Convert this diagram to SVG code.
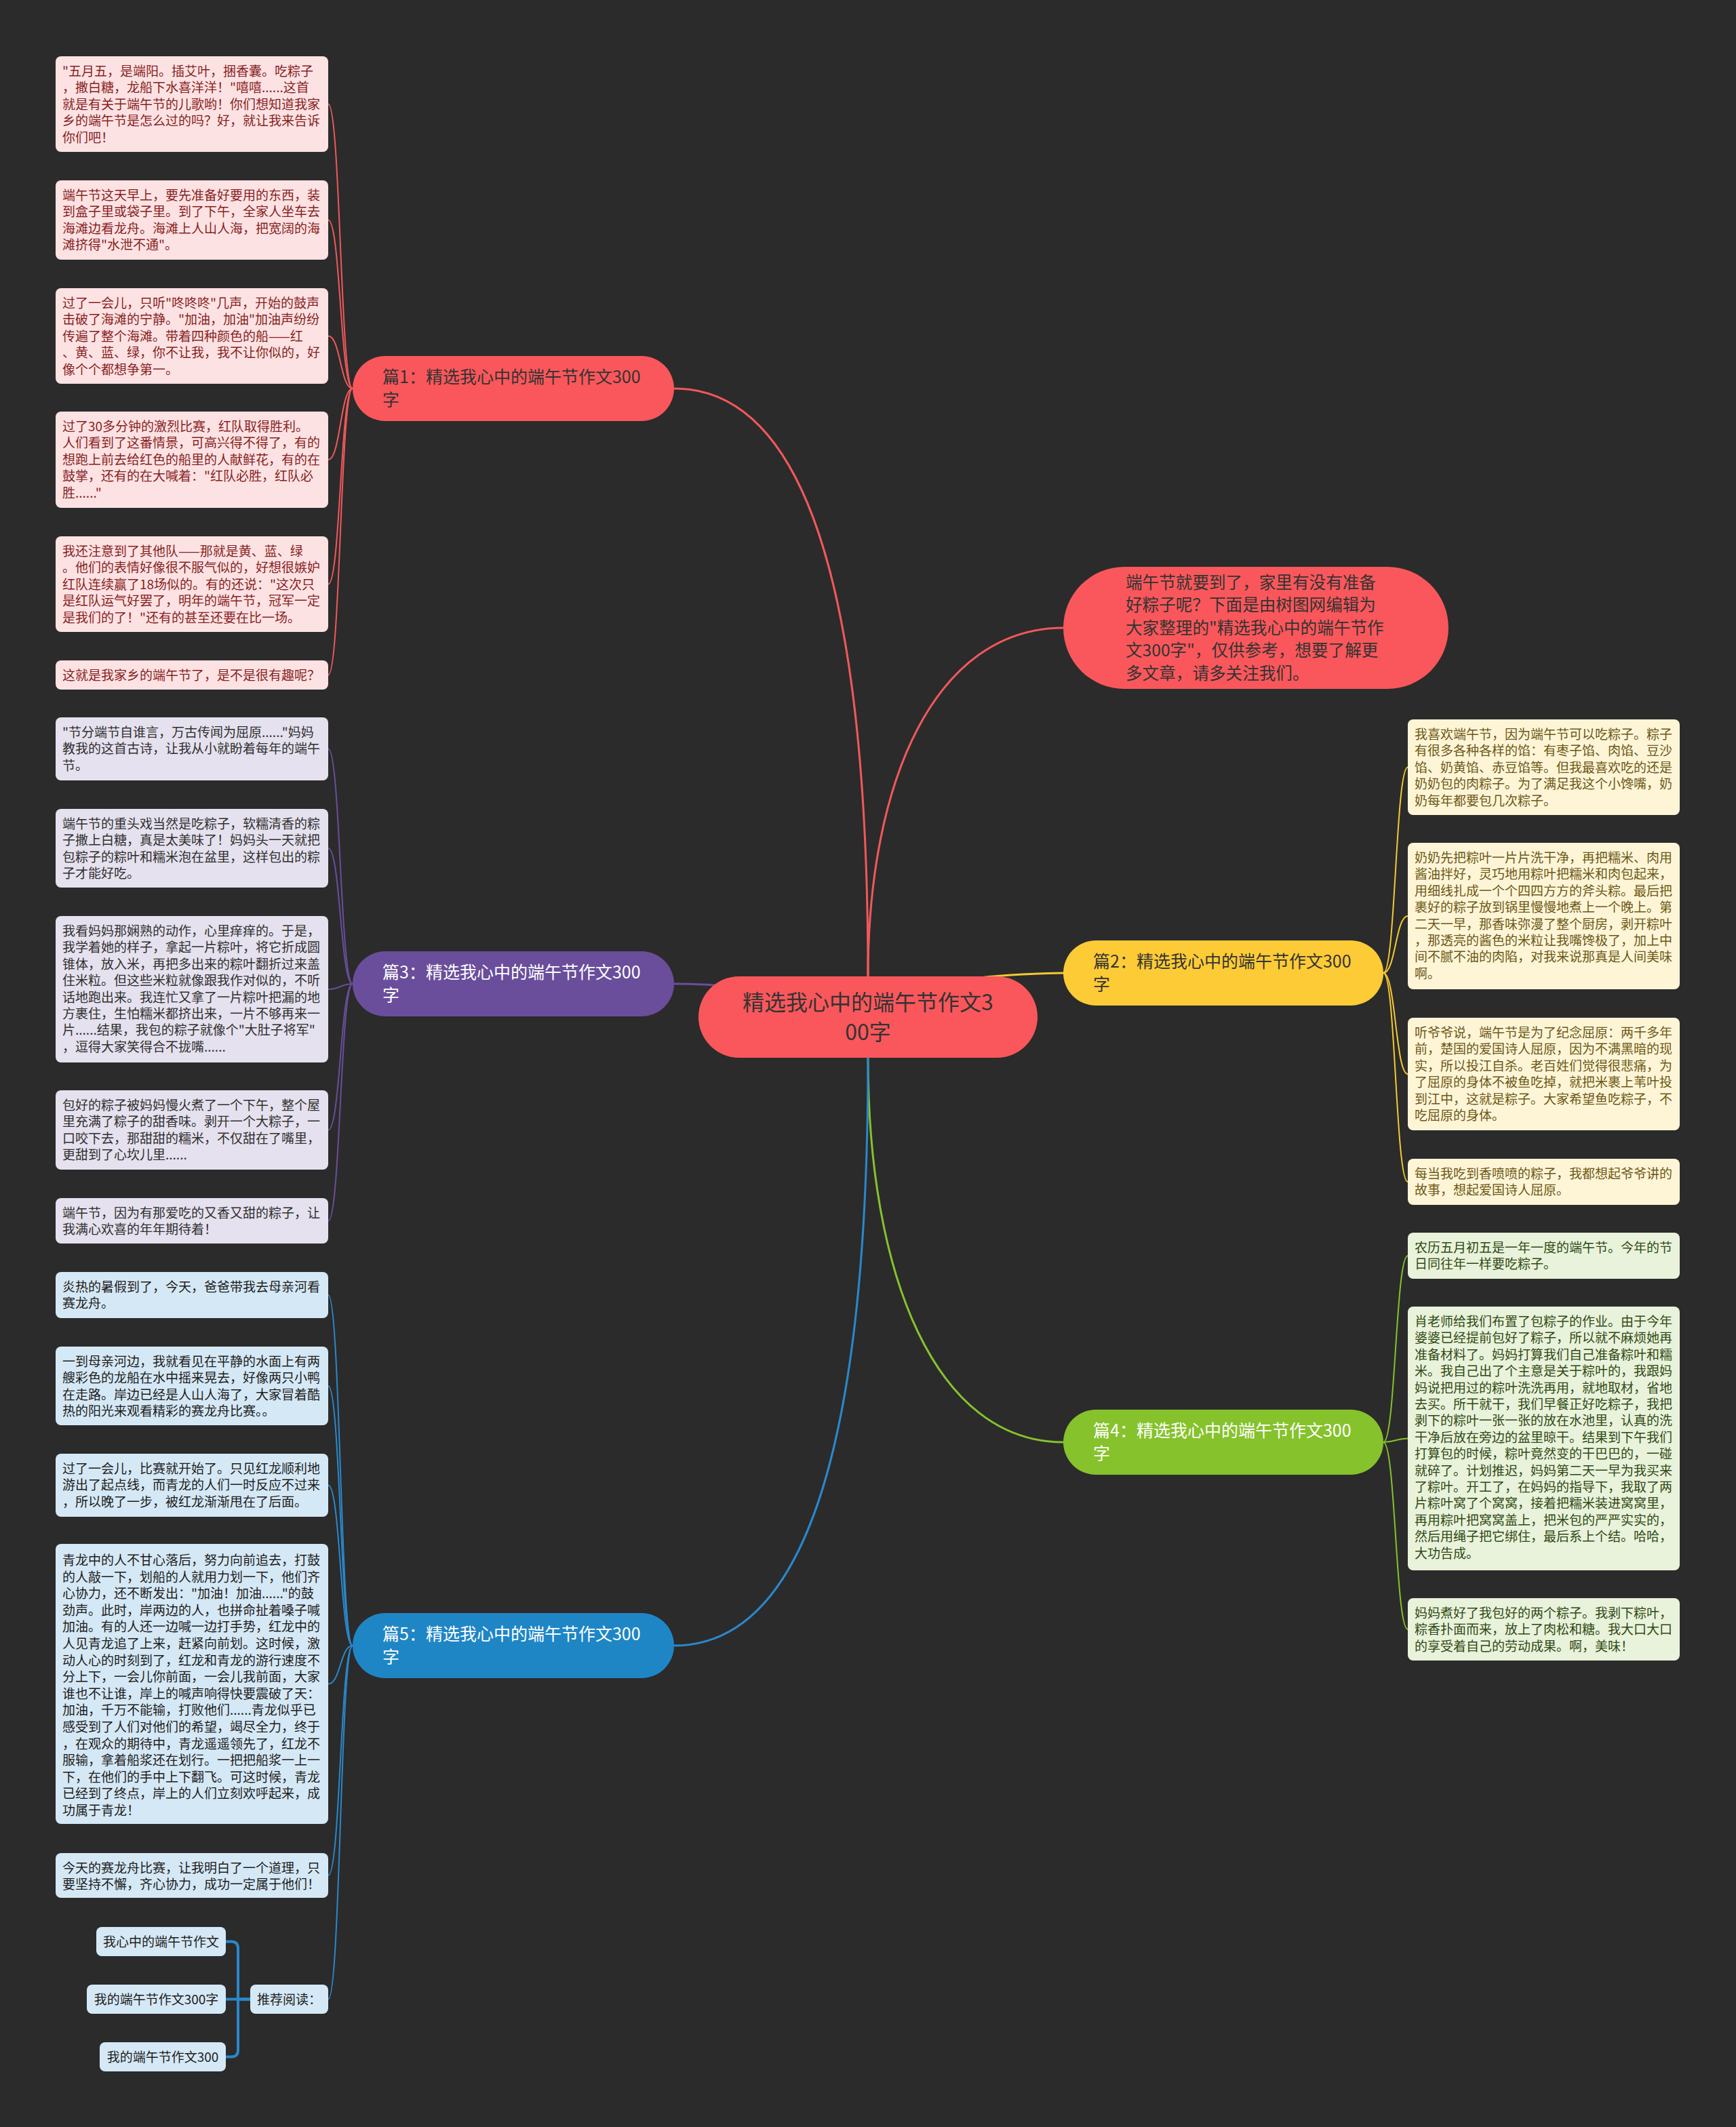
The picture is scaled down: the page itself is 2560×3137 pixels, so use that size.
<svg xmlns="http://www.w3.org/2000/svg" width="2560" height="3137" viewBox="0 0 2560 3137">
<style>
text{font-family:"Noto Sans CJK SC","Noto Sans",sans-serif;}
.lt{font-size:19px;}
.pt{font-size:25px;}
.it{font-size:24.6px;}
.c{fill:none;stroke-linecap:round;}
.cr{stroke:#F2585B;}
.cp{stroke:#6A4E9B;}
.cb{stroke:#2A88CC;}
.cy{stroke:#F5C932;}
.cg{stroke:#86C22C;}
.w3{stroke-width:3;}
.w2{stroke-width:2;}
.r1{fill:#FDE2E3;} .t1{fill:#861F22;}
.r3{fill:#E5E1EE;} .t3{fill:#2F2F2F;}
.r5{fill:#D5E8F5;} .t5{fill:#1C1C1C;}
.r2{fill:#FEF5D7;} .t2{fill:#6B5816;}
.r4{fill:#E9F2DA;} .t4{fill:#2F4915;}
</style>
<rect width="2560" height="3137" fill="#2B2B2B"/>

<g id="connectors">
<path class="c cr w3" d="M1280,1500 L1280,1440 C1280,850 1180,573 994,573"/>
<path class="c cr w3" d="M1280,1500 L1280,1440 C1280,1150 1380,926 1568,926"/>
<path class="c cy w3" d="M1280,1500 C1350,1445 1450,1437 1568,1435"/>
<path class="c cg w3" d="M1280,1500 L1280,1560 C1280,1882 1380,2127 1568,2127"/>
<path class="c cb w3" d="M1280,1500 L1280,1560 C1280,2150 1180,2427 994,2427"/>
<path class="c cp w3" d="M1280,1500 C1150,1460 1080,1451 994,1451"/>

<path class="c cr w2" d="M520,573 C502,573 502,153.5 484,153.5"/>
<path class="c cr w2" d="M520,573 C502,573 502,324.5 484,324.5"/>
<path class="c cr w2" d="M520,573 C502,573 502,495.5 484,495.5"/>
<path class="c cr w2" d="M520,573 C502,573 502,678 484,678"/>
<path class="c cr w2" d="M520,573 C502,573 502,861.5 484,861.5"/>
<path class="c cr w2" d="M520,573 C502,573 502,995.5 484,995.5"/>

<path class="c cp w2" d="M520,1451 C502,1451 502,1104.5 484,1104.5"/>
<path class="c cp w2" d="M520,1451 C502,1451 502,1251 484,1251"/>
<path class="c cp w2" d="M520,1451 C502,1451 502,1459 484,1459"/>
<path class="c cp w2" d="M520,1451 C502,1451 502,1666.5 484,1666.5"/>
<path class="c cp w2" d="M520,1451 C502,1451 502,1800.5 484,1800.5"/>

<path class="c cb w2" d="M520,2427 C502,2427 502,1910 484,1910"/>
<path class="c cb w2" d="M520,2427 C502,2427 502,2044 484,2044"/>
<path class="c cb w2" d="M520,2427 C502,2427 502,2190.5 484,2190.5"/>
<path class="c cb w2" d="M520,2427 C502,2427 502,2483.5 484,2483.5"/>
<path class="c cb w2" d="M520,2427 C502,2427 502,2766 484,2766"/>
<path class="c cb w2" d="M520,2427 C502,2427 502,2948.5 484,2948.5"/>

<path class="c cb" stroke-width="4" d="M369,2948.5 H351 V2873.5 Q351,2863.5 341,2863.5 H333"/>
<path class="c cb" stroke-width="4" d="M369,2948.5 H333"/>
<path class="c cb" stroke-width="4" d="M369,2948.5 H351 V3023.5 Q351,3033.5 341,3033.5 H333"/>

<path class="c cy w2" d="M2040,1435 C2058,1435 2058,1131.5 2076,1131.5"/>
<path class="c cy w2" d="M2040,1435 C2058,1435 2058,1351 2076,1351"/>
<path class="c cy w2" d="M2040,1435 C2058,1435 2058,1584 2076,1584"/>
<path class="c cy w2" d="M2040,1435 C2058,1435 2058,1743 2076,1743"/>

<path class="c cg w2" d="M2040,2127 C2058,2127 2058,1852 2076,1852"/>
<path class="c cg w2" d="M2040,2127 C2058,2127 2058,2121.5 2076,2121.5"/>
<path class="c cg w2" d="M2040,2127 C2058,2127 2058,2403 2076,2403"/>
</g>

<g id="main">
<rect x="1030" y="1440" width="500" height="120" rx="60" fill="#F9575B"/>
<text x="1280" y="1490" font-size="32" fill="#333" text-anchor="middle">精选我心中的端午节作文3<tspan x="1280" dy="44">00字</tspan></text>
</g>

<g id="intro">
<rect x="1568" y="836" width="568" height="180" rx="90" fill="#F9575B"/>
<text x="1660" y="867.5" class="it" fill="#333">端午节就要到了，家里有没有准备<tspan x="1660" dy="33.5">好粽子呢？下面是由树图网编辑为</tspan><tspan x="1660" dy="33.5">大家整理的"精选我心中的端午节作</tspan><tspan x="1660" dy="33.5">文300字"，仅供参考，想要了解更</tspan><tspan x="1660" dy="33.5">多文章，请多关注我们。</tspan></text>
</g>

<g id="p1">
<rect x="520" y="525" width="474" height="96" rx="48" fill="#F9575B"/>
<text x="564" y="565" class="pt" fill="#333">篇1：精选我心中的端午节作文300<tspan x="564" dy="34">字</tspan></text>
</g>
<g id="p2">
<rect x="1568" y="1387" width="472" height="96" rx="48" fill="#FDCB36"/>
<text x="1612" y="1427" class="pt" fill="#333">篇2：精选我心中的端午节作文300<tspan x="1612" dy="34">字</tspan></text>
</g>
<g id="p3">
<rect x="520" y="1403" width="474" height="96" rx="48" fill="#6A4E9B"/>
<text x="564" y="1443" class="pt" fill="#fff">篇3：精选我心中的端午节作文300<tspan x="564" dy="34">字</tspan></text>
</g>
<g id="p4">
<rect x="1568" y="2079" width="472" height="96" rx="48" fill="#86C22C"/>
<text x="1612" y="2119" class="pt" fill="#fff">篇4：精选我心中的端午节作文300<tspan x="1612" dy="34">字</tspan></text>
</g>
<g id="p5">
<rect x="520" y="2379" width="474" height="96" rx="48" fill="#1F86C6"/>
<text x="564" y="2419" class="pt" fill="#fff">篇5：精选我心中的端午节作文300<tspan x="564" dy="34">字</tspan></text>
</g>

<g id="p1-l1"><rect class="r1" x="82" y="83" width="402" height="141" rx="8"/>
<text class="lt t1" x="92" y="112">"五月五，是端阳。插艾叶，捆香囊。吃粽子<tspan x="92" dy="24.4">，撒白糖，龙船下水喜洋洋！"嘻嘻......这首</tspan><tspan x="92" dy="24.4">就是有关于端午节的儿歌哟！你们想知道我家</tspan><tspan x="92" dy="24.4">乡的端午节是怎么过的吗？好，就让我来告诉</tspan><tspan x="92" dy="24.4">你们吧！</tspan></text></g>
<g id="p1-l2"><rect class="r1" x="82" y="266" width="402" height="117" rx="8"/>
<text class="lt t1" x="92" y="295">端午节这天早上，要先准备好要用的东西，装<tspan x="92" dy="24.4">到盒子里或袋子里。到了下午，全家人坐车去</tspan><tspan x="92" dy="24.4">海滩边看龙舟。海滩上人山人海，把宽阔的海</tspan><tspan x="92" dy="24.4">滩挤得"水泄不通"。</tspan></text></g>
<g id="p1-l3"><rect class="r1" x="82" y="425" width="402" height="141" rx="8"/>
<text class="lt t1" x="92" y="454">过了一会儿，只听"咚咚咚"几声，开始的鼓声<tspan x="92" dy="24.4">击破了海滩的宁静。"加油，加油"加油声纷纷</tspan><tspan x="92" dy="24.4">传遍了整个海滩。带着四种颜色的船——红</tspan><tspan x="92" dy="24.4">、黄、蓝、绿，你不让我，我不让你似的，好</tspan><tspan x="92" dy="24.4">像个个都想争第一。</tspan></text></g>
<g id="p1-l4"><rect class="r1" x="82" y="607" width="402" height="142" rx="8"/>
<text class="lt t1" x="92" y="636">过了30多分钟的激烈比赛，红队取得胜利。<tspan x="92" dy="24.4">人们看到了这番情景，可高兴得不得了，有的</tspan><tspan x="92" dy="24.4">想跑上前去给红色的船里的人献鲜花，有的在</tspan><tspan x="92" dy="24.4">鼓掌，还有的在大喊着："红队必胜，红队必</tspan><tspan x="92" dy="24.4">胜......"</tspan></text></g>
<g id="p1-l5"><rect class="r1" x="82" y="791" width="402" height="141" rx="8"/>
<text class="lt t1" x="92" y="820">我还注意到了其他队——那就是黄、蓝、绿<tspan x="92" dy="24.4">。他们的表情好像很不服气似的，好想很嫉妒</tspan><tspan x="92" dy="24.4">红队连续赢了18场似的。有的还说："这次只</tspan><tspan x="92" dy="24.4">是红队运气好罢了，明年的端午节，冠军一定</tspan><tspan x="92" dy="24.4">是我们的了！"还有的甚至还要在比一场。</tspan></text></g>
<g id="p1-l6"><rect class="r1" x="82" y="974" width="402" height="43" rx="8"/>
<text class="lt t1" x="92" y="1002.5">这就是我家乡的端午节了，是不是很有趣呢？</text></g>

<g id="p3-l1"><rect class="r3" x="82" y="1058" width="402" height="93" rx="8"/>
<text class="lt t3" x="92" y="1087">"节分端节自谁言，万古传闻为屈原......"妈妈<tspan x="92" dy="24.4">教我的这首古诗，让我从小就盼着每年的端午</tspan><tspan x="92" dy="24.4">节。</tspan></text></g>
<g id="p3-l2"><rect class="r3" x="82" y="1193" width="402" height="116" rx="8"/>
<text class="lt t3" x="92" y="1222">端午节的重头戏当然是吃粽子，软糯清香的粽<tspan x="92" dy="24.4">子撒上白糖，真是太美味了！妈妈头一天就把</tspan><tspan x="92" dy="24.4">包粽子的粽叶和糯米泡在盆里，这样包出的粽</tspan><tspan x="92" dy="24.4">子才能好吃。</tspan></text></g>
<g id="p3-l3"><rect class="r3" x="82" y="1351" width="402" height="216" rx="8"/>
<text class="lt t3" x="92" y="1380">我看妈妈那娴熟的动作，心里痒痒的。于是，<tspan x="92" dy="24.4">我学着她的样子，拿起一片粽叶，将它折成圆</tspan><tspan x="92" dy="24.4">锥体，放入米，再把多出来的粽叶翻折过来盖</tspan><tspan x="92" dy="24.4">住米粒。但这些米粒就像跟我作对似的，不听</tspan><tspan x="92" dy="24.4">话地跑出来。我连忙又拿了一片粽叶把漏的地</tspan><tspan x="92" dy="24.4">方裹住，生怕糯米都挤出来，一片不够再来一</tspan><tspan x="92" dy="24.4">片......结果，我包的粽子就像个"大肚子将军"</tspan><tspan x="92" dy="24.4">，逗得大家笑得合不拢嘴......</tspan></text></g>
<g id="p3-l4"><rect class="r3" x="82" y="1608" width="402" height="117" rx="8"/>
<text class="lt t3" x="92" y="1637">包好的粽子被妈妈慢火煮了一个下午，整个屋<tspan x="92" dy="24.4">里充满了粽子的甜香味。剥开一个大粽子，一</tspan><tspan x="92" dy="24.4">口咬下去，那甜甜的糯米，不仅甜在了嘴里，</tspan><tspan x="92" dy="24.4">更甜到了心坎儿里......</tspan></text></g>
<g id="p3-l5"><rect class="r3" x="82" y="1767" width="402" height="67" rx="8"/>
<text class="lt t3" x="92" y="1796">端午节，因为有那爱吃的又香又甜的粽子，让<tspan x="92" dy="24.4">我满心欢喜的年年期待着！</tspan></text></g>

<g id="p5-l1"><rect class="r5" x="82" y="1876" width="402" height="68" rx="8"/>
<text class="lt t5" x="92" y="1905">炎热的暑假到了，今天，爸爸带我去母亲河看<tspan x="92" dy="24.4">赛龙舟。</tspan></text></g>
<g id="p5-l2"><rect class="r5" x="82" y="1986" width="402" height="116" rx="8"/>
<text class="lt t5" x="92" y="2015">一到母亲河边，我就看见在平静的水面上有两<tspan x="92" dy="24.4">艘彩色的龙船在水中摇来晃去，好像两只小鸭</tspan><tspan x="92" dy="24.4">在走路。岸边已经是人山人海了，大家冒着酷</tspan><tspan x="92" dy="24.4">热的阳光来观看精彩的赛龙舟比赛。。</tspan></text></g>
<g id="p5-l3"><rect class="r5" x="82" y="2144" width="402" height="93" rx="8"/>
<text class="lt t5" x="92" y="2173">过了一会儿，比赛就开始了。只见红龙顺利地<tspan x="92" dy="24.4">游出了起点线，而青龙的人们一时反应不过来</tspan><tspan x="92" dy="24.4">，所以晚了一步，被红龙渐渐甩在了后面。</tspan></text></g>
<g id="p5-l4"><rect class="r5" x="82" y="2277" width="402" height="413" rx="8"/>
<text class="lt t5" x="92" y="2308">青龙中的人不甘心落后，努力向前追去，打鼓<tspan x="92" dy="24.6">的人敲一下，划船的人就用力划一下，他们齐</tspan><tspan x="92" dy="24.6">心协力，还不断发出："加油！加油......"的鼓</tspan><tspan x="92" dy="24.6">劲声。此时，岸两边的人，也拼命扯着嗓子喊</tspan><tspan x="92" dy="24.6">加油。有的人还一边喊一边打手势，红龙中的</tspan><tspan x="92" dy="24.6">人见青龙追了上来，赶紧向前划。这时候，激</tspan><tspan x="92" dy="24.6">动人心的时刻到了，红龙和青龙的游行速度不</tspan><tspan x="92" dy="24.6">分上下，一会儿你前面，一会儿我前面，大家</tspan><tspan x="92" dy="24.6">谁也不让谁，岸上的喊声响得快要震破了天：</tspan><tspan x="92" dy="24.6">加油，千万不能输，打败他们......青龙似乎已</tspan><tspan x="92" dy="24.6">感受到了人们对他们的希望，竭尽全力，终于</tspan><tspan x="92" dy="24.6">，在观众的期待中，青龙遥遥领先了，红龙不</tspan><tspan x="92" dy="24.6">服输，拿着船浆还在划行。一把把船浆一上一</tspan><tspan x="92" dy="24.6">下，在他们的手中上下翻飞。可这时候，青龙</tspan><tspan x="92" dy="24.6">已经到了终点，岸上的人们立刻欢呼起来，成</tspan><tspan x="92" dy="24.6">功属于青龙！</tspan></text></g>
<g id="p5-l5"><rect class="r5" x="82" y="2733" width="402" height="66" rx="8"/>
<text class="lt t5" x="92" y="2762">今天的赛龙舟比赛，让我明白了一个道理，只<tspan x="92" dy="24.4">要坚持不懈，齐心协力，成功一定属于他们！</tspan></text></g>
<g id="p5-rec"><rect class="r5" x="369" y="2927" width="115" height="43" rx="8"/>
<text class="lt t5" x="426.5" y="2955.5" text-anchor="middle">推荐阅读：</text></g>
<g id="rec1"><rect class="r5" x="142" y="2842" width="191" height="43" rx="8"/>
<text class="lt t5" x="237.5" y="2870.5" text-anchor="middle">我心中的端午节作文</text></g>
<g id="rec2"><rect class="r5" x="128" y="2927" width="205" height="43" rx="8"/>
<text class="lt t5" x="230.5" y="2955.5" text-anchor="middle">我的端午节作文300字</text></g>
<g id="rec3"><rect class="r5" x="147" y="3012" width="186" height="43" rx="8"/>
<text class="lt t5" x="240" y="3040.5" text-anchor="middle">我的端午节作文300</text></g>

<g id="p2-l1"><rect class="r2" x="2076" y="1061" width="401" height="141" rx="8"/>
<text class="lt t2" x="2086" y="1090">我喜欢端午节，因为端午节可以吃粽子。粽子<tspan x="2086" dy="24.4">有很多各种各样的馅：有枣子馅、肉馅、豆沙</tspan><tspan x="2086" dy="24.4">馅、奶黄馅、赤豆馅等。但我最喜欢吃的还是</tspan><tspan x="2086" dy="24.4">奶奶包的肉粽子。为了满足我这个小馋嘴，奶</tspan><tspan x="2086" dy="24.4">奶每年都要包几次粽子。</tspan></text></g>
<g id="p2-l2"><rect class="r2" x="2076" y="1243" width="401" height="216" rx="8"/>
<text class="lt t2" x="2086" y="1272">奶奶先把粽叶一片片洗干净，再把糯米、肉用<tspan x="2086" dy="24.4">酱油拌好，灵巧地用粽叶把糯米和肉包起来，</tspan><tspan x="2086" dy="24.4">用细线扎成一个个四四方方的斧头粽。最后把</tspan><tspan x="2086" dy="24.4">裹好的粽子放到锅里慢慢地煮上一个晚上。第</tspan><tspan x="2086" dy="24.4">二天一早，那香味弥漫了整个厨房，剥开粽叶</tspan><tspan x="2086" dy="24.4">，那透亮的酱色的米粒让我嘴馋极了，加上中</tspan><tspan x="2086" dy="24.4">间不腻不油的肉陷，对我来说那真是人间美味</tspan><tspan x="2086" dy="24.4">啊。</tspan></text></g>
<g id="p2-l3"><rect class="r2" x="2076" y="1501" width="401" height="166" rx="8"/>
<text class="lt t2" x="2086" y="1530">听爷爷说，端午节是为了纪念屈原：两千多年<tspan x="2086" dy="24.4">前，楚国的爱国诗人屈原，因为不满黑暗的现</tspan><tspan x="2086" dy="24.4">实，所以投江自杀。老百姓们觉得很悲痛，为</tspan><tspan x="2086" dy="24.4">了屈原的身体不被鱼吃掉，就把米裹上苇叶投</tspan><tspan x="2086" dy="24.4">到江中，这就是粽子。大家希望鱼吃粽子，不</tspan><tspan x="2086" dy="24.4">吃屈原的身体。</tspan></text></g>
<g id="p2-l4"><rect class="r2" x="2076" y="1709" width="401" height="68" rx="8"/>
<text class="lt t2" x="2086" y="1738">每当我吃到香喷喷的粽子，我都想起爷爷讲的<tspan x="2086" dy="24.4">故事，想起爱国诗人屈原。</tspan></text></g>

<g id="p4-l1"><rect class="r4" x="2076" y="1818" width="401" height="68" rx="8"/>
<text class="lt t4" x="2086" y="1847">农历五月初五是一年一度的端午节。今年的节<tspan x="2086" dy="24.4">日同往年一样要吃粽子。</tspan></text></g>
<g id="p4-l2"><rect class="r4" x="2076" y="1927" width="401" height="389" rx="8"/>
<text class="lt t4" x="2086" y="1956">肖老师给我们布置了包粽子的作业。由于今年<tspan x="2086" dy="24.4">婆婆已经提前包好了粽子，所以就不麻烦她再</tspan><tspan x="2086" dy="24.4">准备材料了。妈妈打算我们自己准备粽叶和糯</tspan><tspan x="2086" dy="24.4">米。我自己出了个主意是关于粽叶的，我跟妈</tspan><tspan x="2086" dy="24.4">妈说把用过的粽叶洗洗再用，就地取材，省地</tspan><tspan x="2086" dy="24.4">去买。所干就干，我们早餐正好吃粽子，我把</tspan><tspan x="2086" dy="24.4">剥下的粽叶一张一张的放在水池里，认真的洗</tspan><tspan x="2086" dy="24.4">干净后放在旁边的盆里晾干。结果到下午我们</tspan><tspan x="2086" dy="24.4">打算包的时候，粽叶竟然变的干巴巴的，一碰</tspan><tspan x="2086" dy="24.4">就碎了。计划推迟，妈妈第二天一早为我买来</tspan><tspan x="2086" dy="24.4">了粽叶。开工了，在妈妈的指导下，我取了两</tspan><tspan x="2086" dy="24.4">片粽叶窝了个窝窝，接着把糯米装进窝窝里，</tspan><tspan x="2086" dy="24.4">再用粽叶把窝窝盖上，把米包的严严实实的，</tspan><tspan x="2086" dy="24.4">然后用绳子把它绑住，最后系上个结。哈哈，</tspan><tspan x="2086" dy="24.4">大功告成。</tspan></text></g>
<g id="p4-l3"><rect class="r4" x="2076" y="2357" width="401" height="92" rx="8"/>
<text class="lt t4" x="2086" y="2386">妈妈煮好了我包好的两个粽子。我剥下粽叶，<tspan x="2086" dy="24.4">粽香扑面而来，放上了肉松和糖。我大口大口</tspan><tspan x="2086" dy="24.4">的享受着自己的劳动成果。啊，美味！</tspan></text></g>
</svg>
